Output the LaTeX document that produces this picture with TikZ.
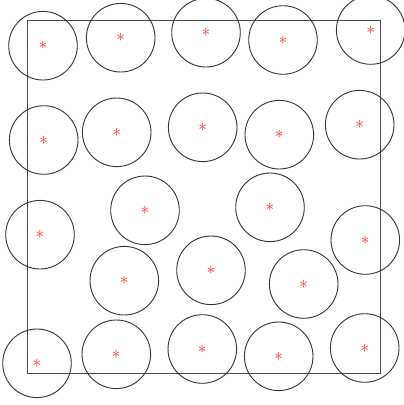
\documentclass[tikz,border=0pt]{standalone}
\begin{document}
\begin{tikzpicture}[x=1pt,y=-1pt,
  circ/.style={draw=black!80,line width=0.9pt,circle,minimum size=68.6pt,inner sep=0pt,text=red!85!white,font=\LARGE},
  frame/.style={draw=black!70,line width=0.9pt}]
\useasboundingbox (0,0) rectangle (404,405);
\node[frame,minimum width=353.3pt,minimum height=352.3pt,inner sep=0pt] (box) at (203.65,196.85) {};
\foreach \n/\x/\y in {c1/43/45.7, c2/120.7/37.7, c3/206/32.7, c4/283/40, c5/370.7/30,
  c6/43.7/140, c7/116.7/132.3, c8/202.7/127.3, c9/279.3/134.7, c10/359.7/124.7,
  c11/40/234.7, c12/145/210.3, c13/270/207.3, c14/365.3/240,
  c15/124.3/280.7, c16/211/270.3, c17/303.7/284,
  c18/37/363.3, c19/116.3/354.3, c20/202.3/349, c21/278.7/356.3, c22/364.7/348}
  \node[circ] (\n) at (\x,\y) {$\ast$};
\end{tikzpicture}
\end{document}
